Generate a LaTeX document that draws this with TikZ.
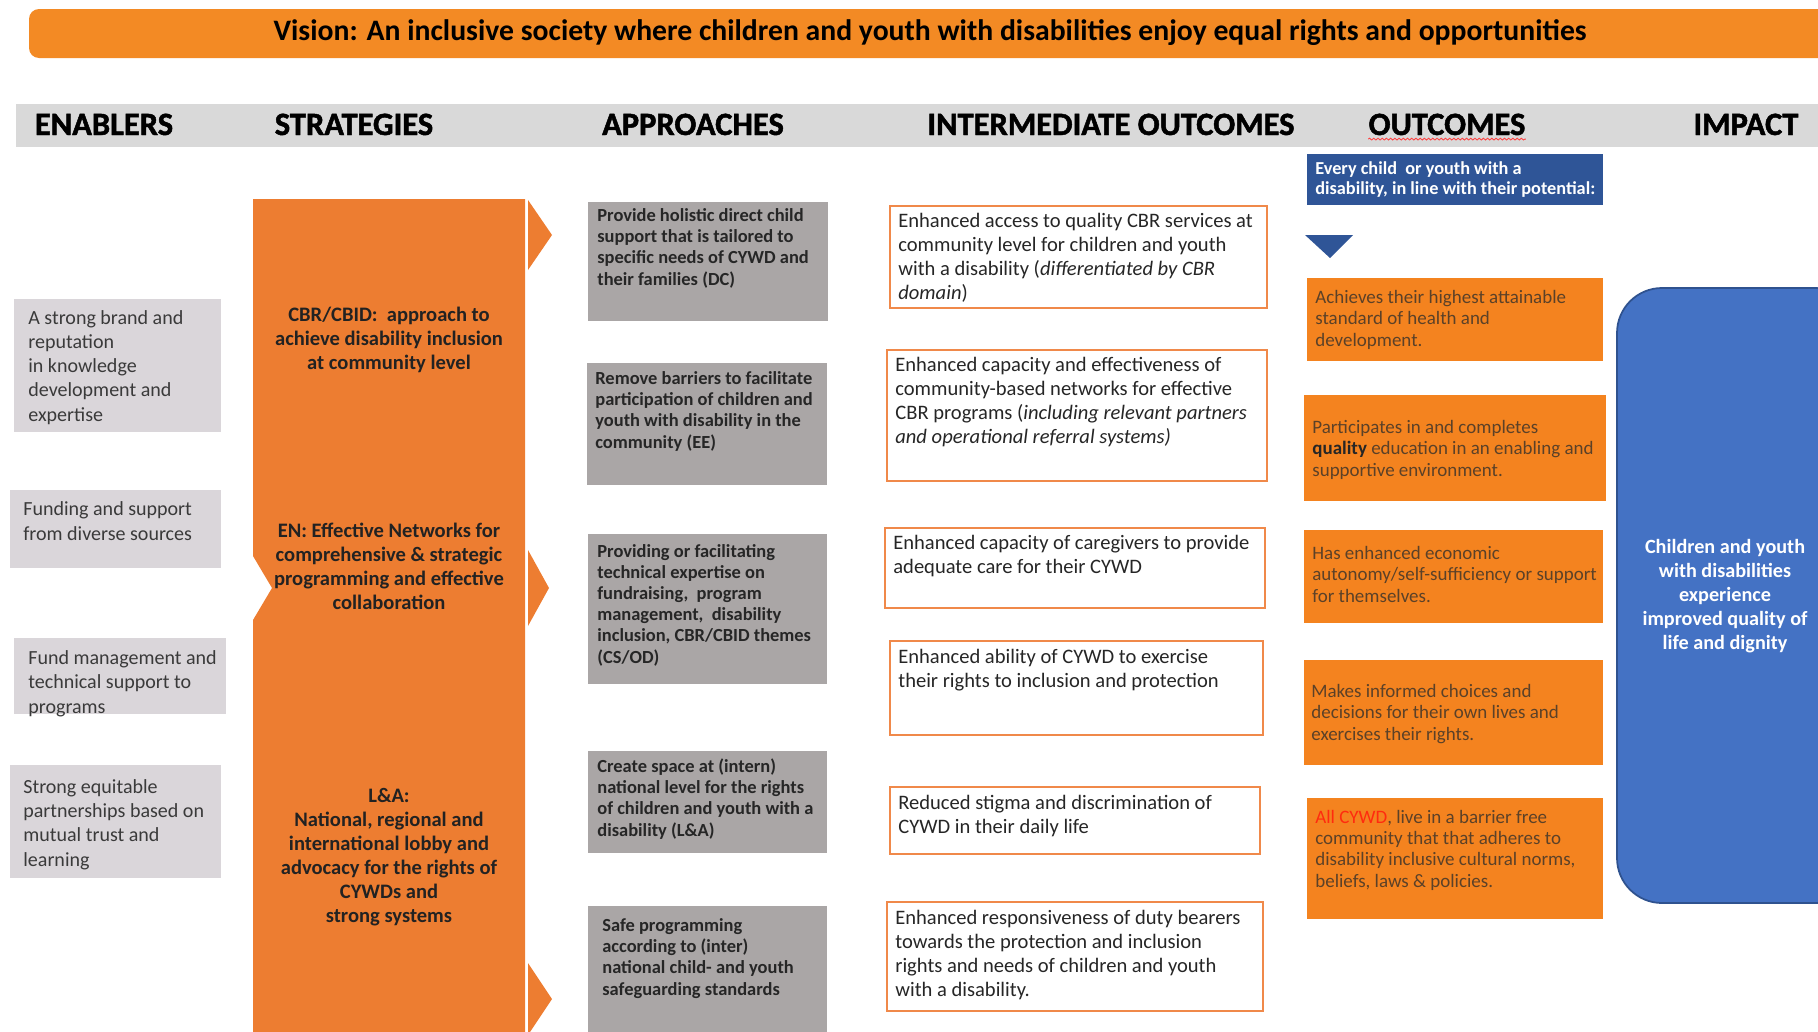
\documentclass[tikz,border=0pt]{standalone}
\usepackage{fontspec}
\setmainfont{Carlito}
\newfontfamily\headfont[BoldFeatures={FakeBold=1.5}]{Carlito}
\usetikzlibrary{decorations.pathmorphing}

\definecolor{vision}{HTML}{F38A24}
\definecolor{headgray}{HTML}{D9D9D9}
\definecolor{enablergray}{HTML}{DAD6DA}
\definecolor{enablertext}{HTML}{3A3A3A}
\definecolor{stratorange}{HTML}{ED7D31}
\definecolor{strattext}{HTML}{222222}
\definecolor{approachgray}{HTML}{AAA6A6}
\definecolor{approachtext}{HTML}{262626}
\definecolor{interline}{HTML}{F0894A}
\definecolor{intertext}{HTML}{262626}
\definecolor{outorange}{HTML}{F4831F}
\definecolor{outtext}{HTML}{5B4128}
\definecolor{darkblue}{HTML}{2F5597}
\definecolor{impactblue}{HTML}{4472C4}
\definecolor{impactline}{HTML}{2F528F}
\definecolor{cywdred}{HTML}{FF2B0F}

\begin{document}
\begin{tikzpicture}[x=0.02cm, y=-0.02cm,
    headtext/.style={anchor=base, inner sep=0pt, text=black, font=\headfont\bfseries\fontsize{18.5}{20}\selectfont},
    etext/.style={anchor=base west, align=left, inner sep=0pt, text=enablertext, font=\fontsize{11.4}{13.7}\selectfont},
    stext/.style={anchor=base, align=center, inner sep=0pt, text=strattext, font=\bfseries\fontsize{11.7}{13.6}\selectfont},
    atext/.style={anchor=base west, align=left, inner sep=0pt, text=approachtext, font=\bfseries\fontsize{10.5}{12}\selectfont},
    itext/.style={anchor=base west, align=left, inner sep=0pt, text=intertext, font=\fontsize{11.7}{13.6}\selectfont},
    otext/.style={anchor=base west, align=left, inner sep=0pt, text=outtext, font=\fontsize{10.8}{12.1}\selectfont},
    bluetext/.style={anchor=base west, align=left, inner sep=0pt, text=white, font=\bfseries\fontsize{10.4}{11.2}\selectfont},
    ptext/.style={anchor=base, align=center, inner sep=0pt, text=white, font=\bfseries\fontsize{11.5}{13.6}\selectfont},
    enablerbox/.style={fill=enablergray},
    approachbox/.style={fill=approachgray},
    interbox/.style={draw=interline, line width=1.2pt, fill=white},
    outbox/.style={fill=outorange}]

            \useasboundingbox (0, 0) rectangle (1818, 1031);
            \clip (0, 0) rectangle (1818, 1031);

            % vision banner and column heads
            \fill[vision, rounded corners=0.2cm] (29, 9) rectangle (1850, 58);
            \node (vision) at (930, 40) [anchor=base, inner sep=0pt, font=\bfseries\fontsize{16.9}{18}\selectfont] {Vision: An inclusive society where children and youth with disabilities enjoy equal rights and opportunities};

            \fill[headgray] (16, 104) rectangle (1818, 147);
            \node (h1) at (104, 135) [headtext] {ENABLERS};
            \node (h2) at (354, 135) [headtext] {STRATEGIES};
            \node (h3) at (693, 135) [headtext] {APPROACHES};
            \node (h4) at (1111, 135) [headtext] {INTERMEDIATE OUTCOMES};
            \node (h5) at (1447, 135) [headtext] {OUTCOMES};
            \node (h6) at (1746, 135) [headtext] {IMPACT};
            \draw[red!75, line width=0.5pt, decorate, decoration={snake, amplitude=0.5pt, segment length=2.4pt}]
                ([yshift=-2pt]h5.south west) -- ([yshift=-2pt]h5.south east);

            % enablers (base = last line)
            \fill[enablerbox] (14, 299) rectangle (221, 432);
            \fill[enablerbox] (10, 490) rectangle (221, 568);
            \fill[enablerbox] (14, 638) rectangle (226, 714);
            \fill[enablerbox] (10, 765) rectangle (221, 878);
            \node (e1) at (28, 421) [etext] {A strong brand and\\reputation\\in knowledge\\development and\\expertise};
            \node (e2) at (23, 540) [etext] {Funding and support\\from diverse sources};
            \node (e3) at (28, 713) [etext] {Fund management and\\technical support to\\programs};
            \node (e4) at (23, 866) [etext] {Strong equitable\\partnerships based on\\mutual trust and\\learning};

            % strategies: one block with a notch and three tips
            \fill[stratorange] (253, 199) -- (525, 199) -- (525, 1040) -- (253, 1040)
                -- (253, 620) -- (272, 588) -- (253, 556) -- cycle;
            \fill[stratorange] (528, 200) -- (552, 235) -- (528, 270) -- cycle;
            \fill[stratorange] (528, 550) -- (549, 588) -- (528, 626) -- cycle;
            \fill[stratorange] (528, 963) -- (552, 999) -- (528, 1035) -- cycle;
            \node (s1) at (389, 369) [stext] {CBR/CBID:\ \ approach to\\achieve disability inclusion\\at community level};
            \node (s2) at (389, 609) [stext] {EN: Effective Networks for\\comprehensive \& strategic\\programming and effective\\collaboration};
            \node (s3) at (389, 922) [stext] {L\&A:\\National, regional and\\international lobby and\\advocacy for the rights of\\CYWDs and\\strong systems};

            % approaches
            \fill[approachbox] (588, 202) rectangle (828, 321);
            \fill[approachbox] (587, 363) rectangle (827, 485);
            \fill[approachbox] (588, 534) rectangle (827, 684);
            \fill[approachbox] (588, 751) rectangle (827, 853);
            \fill[approachbox] (588, 906) rectangle (827, 1040);
            \node (a1) at (597, 285) [atext] {Provide holistic direct child\\support that is tailored to\\specific needs of CYWD and\\their families (DC)};
            \node (a2) at (595, 448) [atext] {Remove barriers to facilitate\\participation of children and\\youth with disability in the\\community (EE)};
            \node (a3) at (597, 663) [atext] {Providing or facilitating\\technical expertise on\\fundraising,\ \ program\\management,\ \ disability\\inclusion, CBR/CBID themes\\(CS/OD)};
            \node (a4) at (597, 836) [atext] {Create space at (intern)\\national level for the rights\\of children and youth with a\\disability (L\&A)};
            \node (a5) at (602, 995) [atext] {Safe programming\\according to (inter)\\national child- and youth\\safeguarding standards};

            % intermediate outcomes
            \filldraw[interbox] (890, 206) rectangle (1267, 308);
            \filldraw[interbox] (887, 350) rectangle (1267, 481);
            \filldraw[interbox] (885, 528) rectangle (1265, 608);
            \filldraw[interbox] (890, 641) rectangle (1263, 735);
            \filldraw[interbox] (890, 787) rectangle (1260, 854);
            \filldraw[interbox] (887, 902) rectangle (1263, 1011);
            \node (i1) at (898, 299) [itext] {Enhanced access to quality CBR services at\\community level for children and youth\\with a disability (\textit{differentiated by CBR}\\\textit{domain})};
            \node (i2) at (895, 443) [itext] {Enhanced capacity and effectiveness of\\community-based networks for effective\\CBR programs (\textit{including relevant partners}\\\textit{and operational referral systems)}};
            \node (i3) at (893, 573) [itext] {Enhanced capacity of caregivers to provide\\adequate care for their CYWD};
            \node (i4) at (898, 687) [itext] {Enhanced ability of CYWD to exercise\\their rights to inclusion and protection};
            \node (i5) at (898, 833) [itext] {Reduced stigma and discrimination of\\CYWD in their daily life};
            \node (i6) at (895, 996) [itext] {Enhanced responsiveness of duty bearers\\towards the protection and inclusion\\rights and needs of children and youth\\with a disability.};

            % outcomes
            \fill[darkblue] (1307, 154) rectangle (1603, 205);
            \fill[darkblue] (1305, 235) -- (1353, 235) -- (1330, 258) -- cycle;
            \node (o0) at (1315, 194) [bluetext] {Every child\ \ or youth with a\\disability, in line with their potential:};
            \fill[outbox] (1307, 278) rectangle (1603, 361);
            \fill[outbox] (1304, 395) rectangle (1606, 501);
            \fill[outbox] (1304, 530) rectangle (1603, 623);
            \fill[outbox] (1304, 660) rectangle (1603, 765);
            \fill[outbox] (1307, 798) rectangle (1603, 919);
            \node (o1) at (1315, 346) [otext] {Achieves their highest attainable\\standard of health and\\development.};
            \node (o2) at (1312, 476) [otext] {Participates in and completes\\\textbf{\textcolor{black!85}{quality}} education in an enabling and\\supportive environment.};
            \node (o3) at (1312, 602) [otext] {Has enhanced economic\\autonomy/self-sufficiency or support\\for themselves.};
            \node (o4) at (1311, 740) [otext] {Makes informed choices and\\decisions for their own lives and\\exercises their rights.};
            \node (o5) at (1315, 887) [otext] {\textcolor{cywdred}{All CYWD}, live in a barrier free\\community that that adheres to\\disability inclusive cultural norms,\\beliefs, laws \& policies.};

            % impact
            \filldraw[fill=impactblue, draw=impactline, line width=1pt, rounded corners=0.9cm] (1617, 288) rectangle (1860, 903);
            \node (impact) at (1725, 649) [ptext] {Children and youth\\with disabilities\\experience\\improved quality of\\life and dignity};

        \end{tikzpicture}
\end{document}
